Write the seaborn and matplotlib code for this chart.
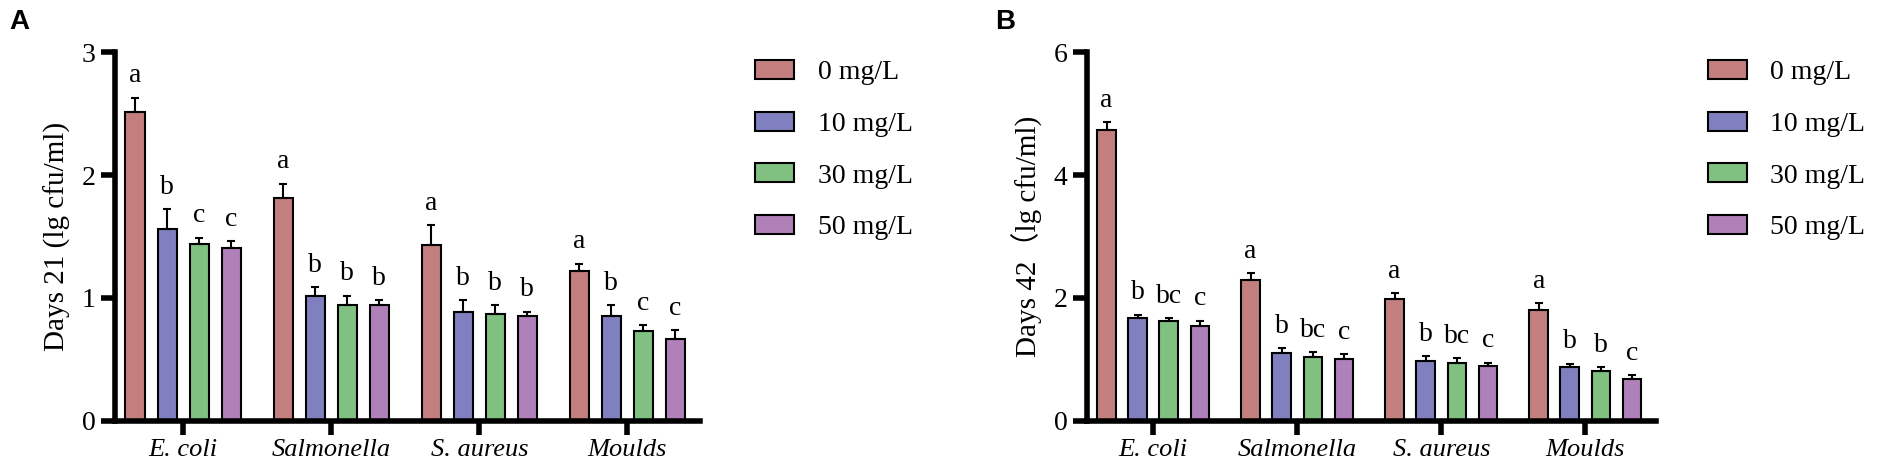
import numpy as np
import pandas as pd
import matplotlib
matplotlib.use("Agg")
import matplotlib.pyplot as plt
import seaborn as sns

# data
microbes = ["E. coli", "Salmonella", "S. aureus", "Moulds"]
doses = ["0 mg/L", "10 mg/L", "30 mg/L", "50 mg/L"]
colors = ["#C27F7E", "#8080C0", "#80C080", "#B080B8"]

# day 21, rows = microbes, cols = doses
d21_mean = [[2.51, 1.56, 1.44, 1.41],
            [1.81, 1.02, 0.94, 0.94],
            [1.43, 0.89, 0.87, 0.85],
            [1.22, 0.85, 0.73, 0.67]]
d21_err = [[0.12, 0.16, 0.05, 0.05],
           [0.12, 0.07, 0.08, 0.04],
           [0.16, 0.09, 0.07, 0.04],
           [0.06, 0.09, 0.05, 0.07]]
d21_letters = [["a", "b", "c", "c"],
               ["a", "b", "b", "b"],
               ["a", "b", "b", "b"],
               ["a", "b", "c", "c"]]

# day 42
d42_mean = [[4.74, 1.68, 1.62, 1.55],
            [2.29, 1.11, 1.04, 1.01],
            [1.99, 0.98, 0.95, 0.90],
            [1.81, 0.87, 0.81, 0.68]]
d42_err = [[0.12, 0.05, 0.05, 0.08],
           [0.12, 0.07, 0.08, 0.08],
           [0.09, 0.07, 0.07, 0.05],
           [0.11, 0.06, 0.07, 0.07]]
d42_letters = [["a", "b", "bc", "c"],
               ["a", "b", "bc", "c"],
               ["a", "b", "bc", "c"],
               ["a", "b", "b", "c"]]

sns.set_style("ticks")
plt.rcParams['font.family'] = ['Liberation Serif', 'Noto Sans CJK SC', 'DejaVu Sans']
plt.rcParams['text.color'] = 'black'
plt.rcParams['axes.labelcolor'] = 'black'
plt.rcParams['xtick.color'] = 'black'
plt.rcParams['ytick.color'] = 'black'
plt.rcParams['axes.edgecolor'] = 'black'

fs = 20
fig = plt.figure(figsize=(19.02, 4.74), dpi=100)


def panel(rect, mean, err, letters, ylabel, ymax, yticks, letter, letter_x, legend_x):
    ax = fig.add_axes(rect)
    rows = []
    for i, m in enumerate(microbes):
        for j, d in enumerate(doses):
            rows.append({"microbe": m, "dose": d, "value": mean[i][j]})
    df = pd.DataFrame(rows)
    sns.barplot(data=df, x="microbe", y="value", hue="dose", order=microbes,
                hue_order=doses, palette=colors, errorbar=None, width=0.865,
                gap=0.4, edgecolor="black", linewidth=1.5, saturation=1, ax=ax)
    # error bars and letters on top of each bar
    for j, d in enumerate(doses):
        cont = ax.containers[j]
        for i, bar in enumerate(cont.patches):
            x = bar.get_x() + bar.get_width() / 2
            y = mean[i][j]
            e = err[i][j]
            ax.errorbar(x, y, yerr=[[0], [e]], fmt="none", ecolor="black",
                        elinewidth=1.5, capsize=2.6, capthick=1.5, zorder=3)
            ax.annotate(letters[i][j], (x, y + e), xytext=(0, 11),
                        textcoords="offset points", ha="center", va="baseline",
                        fontsize=fs)
    ax.set_ylim(0, ymax)
    ax.set_xlim(-0.46, 3.49)
    ax.set_yticks(yticks)
    ax.set_yticklabels([str(t) for t in yticks], fontsize=fs)
    ax.set_xticks(range(len(microbes)))
    ax.set_xticklabels(microbes, fontsize=19, style="italic")
    ax.set_xlabel("")
    ax.set_ylabel(ylabel, fontsize=21, labelpad=8)
    sns.despine(ax=ax)
    for s in ["left", "bottom"]:
        ax.spines[s].set_linewidth(4)
        ax.spines[s].set_color("black")
    ax.tick_params(axis="both", width=4, length=10, pad=3, color="black")
    ax.tick_params(axis="y", pad=4)
    ax.get_legend().remove()
    handles = [plt.Rectangle((0, 0), 1, 1, facecolor=c, edgecolor="black",
                             linewidth=1.5) for c in colors]
    fig.legend(handles, doses, loc="upper left",
               bbox_to_anchor=(legend_x, 1 - 60 / 474), frameon=False,
               fontsize=fs, handlelength=1.4, handleheight=0.68,
               handletextpad=0.85, labelspacing=0.95, borderpad=0,
               borderaxespad=0)
    fig.text(letter_x, 1 - 9 / 474, letter, fontsize=20, fontweight="bold",
             family="Liberation Sans", va="top", ha="left")
    return ax


panel([115 / 1902, 0.112, (700 - 115) / 1902, 0.778], d21_mean, d21_err,
      d21_letters, "Days 21 (lg cfu/ml)", 3, [0, 1, 2, 3], "A",
      9 / 1902, 755 / 1902)
panel([1087 / 1902, 0.112, (1656 - 1087) / 1902, 0.778], d42_mean, d42_err,
      d42_letters, "Days 42（lg cfu/ml)", 6, [0, 2, 4, 6], "B",
      995 / 1902, 1708 / 1902)

fig.savefig("out.png", dpi=100)
